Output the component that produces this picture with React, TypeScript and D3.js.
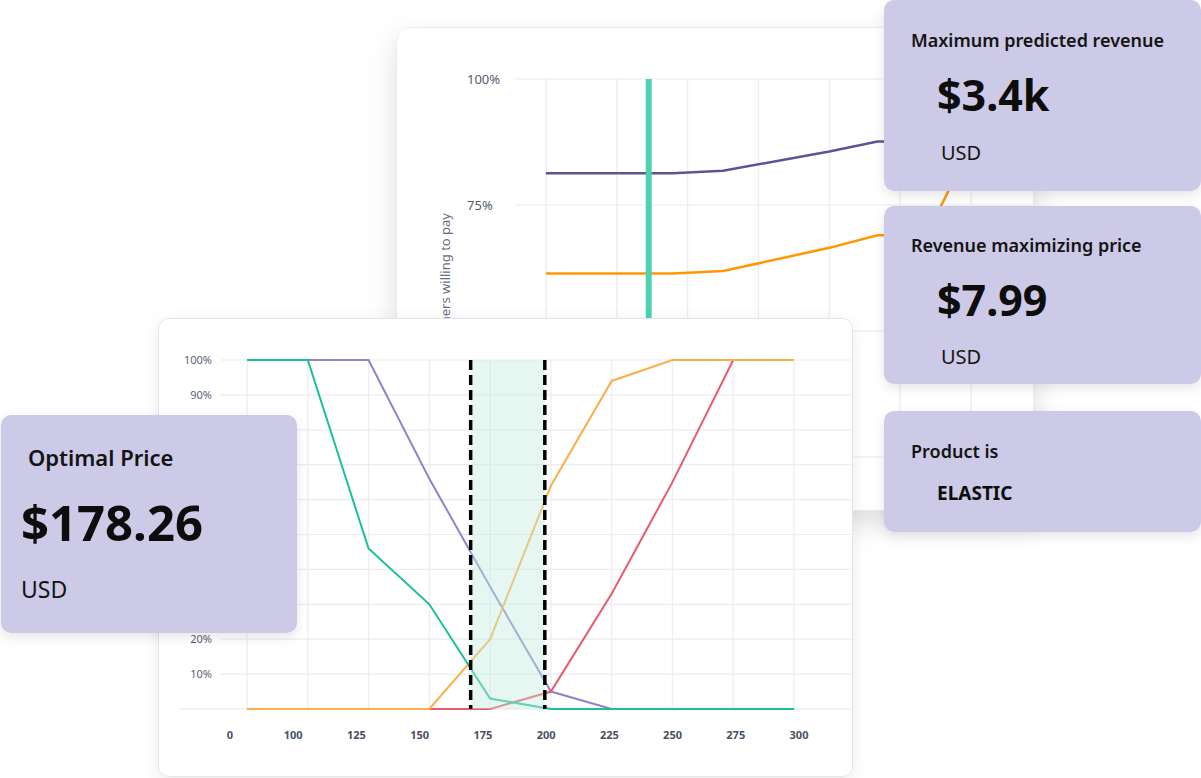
import React from "react";
import * as d3 from "d3";

// ---------- Front chart (price sensitivity) ----------
const priceLabels = ["0", "100", "125", "150", "175", "200", "225", "250", "275", "300"];
const yTicksFront = [10, 20, 30, 40, 50, 60, 70, 80, 90, 100];
const tooCheap = [100, 100, 46, 30, 3, 0, 0, 0, 0, 0];
const cheap = [100, 100, 100, 66, 35, 5, 0, 0, 0, 0];
const expensive = [0, 0, 0, 0, 20, 64, 94, 100, 100, 100];
const tooExpensive = [0, 0, 0, 0, 0, 5, 33, 65, 100, 100];
const acceptableRange = [3.68, 4.9]; // in price-index units

// ---------- Back chart (willingness to pay) ----------
const backTicksX = [0, 1, 2, 3, 4, 5, 6];
const backTicksY = [25, 50, 75, 100];
const backX = [0, 1.79, 2.5, 4.0, 4.68, 5.37, 5.92];
const backPurple = [81.3, 81.3, 81.8, 85.6, 87.6, 87.6, 100];
const backOrange = [61.4, 61.4, 61.9, 66.5, 69.0, 69.0, 84.5];
const backMarker = 1.45;

// ---------- KPI cards ----------
const kpiTitles = ["Maximum predicted revenue", "Revenue maximizing price", "Product is"];
const kpiValues = ["$3.4k", "$7.99", "ELASTIC"];
const kpiUnits = ["USD", "USD", ""];
const optimalTitle = "Optimal Price";
const optimalValue = "$178.26";
const optimalUnit = "USD";

const FONT = "'Noto Sans', 'Open Sans', sans-serif";

export default function App() {
  // front scales
  const xF = d3.scaleLinear().domain([0, 9]).range([247, 794]);
  const xLab = d3.scalePoint<string>().domain(priceLabels).range([230, 799]);
  const yF = d3.scaleLinear().domain([0, 100]).range([709, 360]);
  const lineF = d3
    .line<number>()
    .x((_, i) => xF(i))
    .y((d) => yF(d));

  // back scales
  const xB = d3.scaleLinear().domain([0, 6]).range([546, 971]);
  const yB = d3.scaleLinear().domain([0, 100]).range([583, 79]);
  const lineB = (vals: number[]) =>
    d3
      .line<number>()
      .x((_, i) => xB(backX[i]))
      .y((d) => yB(d))(vals) || "";

  const rightCards = [
    { y: 0, h: 191, tY: 47, vY: 111, uY: 160, vSize: 43 },
    { y: 206, h: 178, tY: 252, vY: 316, uY: 364, vSize: 43 },
    { y: 411, h: 121, tY: 458, vY: 500, uY: 0, vSize: 19 },
  ];

  return (
    <div style={{ position: "absolute", left: 0, top: 0 }}>
      <svg width={1201} height={778} style={{ display: "block", background: "#fff", fontFamily: FONT }}>
        <defs>
          <filter id="shBig" x="-20%" y="-20%" width="140%" height="150%">
            <feDropShadow dx="0" dy="12" stdDeviation="14" floodColor="#000" floodOpacity="0.13" />
          </filter>
          <filter id="shMid" x="-20%" y="-20%" width="140%" height="140%">
            <feDropShadow dx="0" dy="4" stdDeviation="8" floodColor="#000" floodOpacity="0.08" />
          </filter>
          <filter id="shCard" x="-20%" y="-20%" width="140%" height="150%">
            <feDropShadow dx="0" dy="4" stdDeviation="6" floodColor="#000" floodOpacity="0.10" />
          </filter>
          <clipPath id="backClip">
            <rect x={396.5} y={27.5} width={637} height={483} rx={14} />
          </clipPath>
          <clipPath id="frontClip">
            <rect x={158.5} y={318.5} width={694} height={458} rx={10} />
          </clipPath>
        </defs>

        {/* ---------- Back card ---------- */}
        <rect x={396.5} y={27.5} width={637} height={483} rx={14} fill="#fff" stroke="#ececf0" filter="url(#shBig)" />
        <g clipPath="url(#backClip)">
          {backTicksY.map((t) => (
            <line key={"bh" + t} x1={515} x2={1040} y1={yB(t)} y2={yB(t)} stroke="#ebebf0" strokeWidth={1.2} />
          ))}
          {backTicksX.map((t) => (
            <line key={"bv" + t} x1={xB(t)} x2={xB(t)} y1={yB(100)} y2={600} stroke="#ebebf0" strokeWidth={1.2} />
          ))}
          {backTicksY.map((t) => (
            <text key={"bl" + t} x={467} y={yB(t) + 5} fontSize={13} fill="#555b70">
              {t}%
            </text>
          ))}
          <text
            transform={`translate(450,213) rotate(-90)`}
            textAnchor="end"
            fontSize={13}
            fill="#6a6f80"
          >
            % of customers willing to pay
          </text>
          <path d={lineB(backPurple)} fill="none" stroke="#5b5499" strokeWidth={2.5} />
          <path d={lineB(backOrange)} fill="none" stroke="#ff9800" strokeWidth={2.5} />
          <rect x={xB(backMarker) - 3} y={yB(100)} width={6} height={yB(0) - yB(100)} fill="#4fd1b4" />
        </g>

        {/* ---------- Front card ---------- */}
        <rect x={158.5} y={318.5} width={694} height={458} rx={10} fill="#fff" stroke="#e4e4ea" filter="url(#shMid)" />
        <g clipPath="url(#frontClip)">
          {yTicksFront.map((t) => (
            <line key={"fh" + t} x1={221} x2={860} y1={yF(t)} y2={yF(t)} stroke="#ececf1" strokeWidth={1.2} />
          ))}
          <line x1={179} x2={860} y1={yF(0)} y2={yF(0)} stroke="#e6e6ec" strokeWidth={1.2} />
          {priceLabels.map((_, i) => (
            <line key={"fv" + i} x1={xF(i)} x2={xF(i)} y1={yF(100)} y2={yF(0)} stroke="#ececf1" strokeWidth={1.2} />
          ))}
          {yTicksFront.map((t) => (
            <text key={"fl" + t} x={212} y={yF(t) + 4} textAnchor="end" fontSize={11} fill="#5b6177">
              {t}%
            </text>
          ))}
          {priceLabels.map((p) => (
            <text key={"xl" + p} x={xLab(p)} y={739} textAnchor="middle" fontSize={11} fontWeight={700} fill="#4a4f66">
              {p}
            </text>
          ))}
          <path d={lineF(cheap) || ""} fill="none" stroke="#8b86c8" strokeWidth={2} />
          <path d={lineF(tooExpensive) || ""} fill="none" stroke="#e95a6b" strokeWidth={2} />
          <path d={lineF(expensive) || ""} fill="none" stroke="#fbaf48" strokeWidth={2} />
          <path d={lineF(tooCheap) || ""} fill="none" stroke="#1abf9c" strokeWidth={2} />
          <rect
            x={xF(acceptableRange[0])}
            y={yF(100)}
            width={xF(acceptableRange[1]) - xF(acceptableRange[0])}
            height={yF(0) - yF(100)}
            fill="#c3ebe0"
            fillOpacity={0.42}
          />
          {acceptableRange.map((r, i) => (
            <line
              key={"dash" + i}
              x1={xF(r)}
              x2={xF(r)}
              y1={yF(100)}
              y2={yF(0)}
              stroke="#000"
              strokeWidth={3.5}
              strokeDasharray="10 5"
            />
          ))}
        </g>

        {/* ---------- Right KPI cards ---------- */}
        {rightCards.map((c, i) => (
          <g key={"kc" + i}>
            <rect x={884} y={c.y} width={317} height={c.h} rx={10} fill="#cccae6" filter="url(#shCard)" />
            <text x={911} y={c.tY} fontSize={18} fontWeight={600} fill="#141414">
              {kpiTitles[i]}
            </text>
            <text x={937} y={c.vY} fontSize={c.vSize} fontWeight={700} fill="#0d0d0d">
              {kpiValues[i]}
            </text>
            {kpiUnits[i] && (
              <text x={941} y={c.uY} fontSize={20} fill="#141414">
                {kpiUnits[i]}
              </text>
            )}
          </g>
        ))}

        {/* ---------- Optimal price card ---------- */}
        <rect x={1} y={415} width={296} height={218} rx={10} fill="#cccae6" filter="url(#shCard)" />
        <text x={28} y={466} fontSize={22} fontWeight={600} fill="#141414">
          {optimalTitle}
        </text>
        <text x={21} y={541} fontSize={49} fontWeight={700} fill="#0d0d0d">
          {optimalValue}
        </text>
        <text x={21} y={598} fontSize={23} fill="#141414">
          {optimalUnit}
        </text>
      </svg>
    </div>
  );
}
